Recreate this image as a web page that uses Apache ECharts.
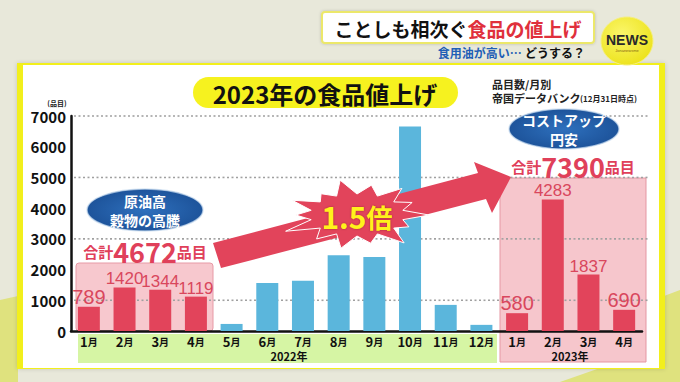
<!DOCTYPE html>
<html><head><meta charset="utf-8">
<script src="https://cdn.jsdelivr.net/npm/echarts/dist/echarts.min.js"></script>
<style>html,body{margin:0;padding:0;background:#e8e8da}#c{width:680px;height:382px}</style>
</head><body><div id="c"></div>
<script>
// ---- data ----
const categories = ['1月','2月','3月','4月','5月','6月','7月','8月','9月','10月','11月','12月','1月','2月','3月','4月'];
const values2022 = [789, 1420, 1344, 1119, 230, 1560, 1640, 2470, 2410, 6660, 850, 200];
const values2023 = [580, 4283, 1837, 690];
const highlight2022Count = 4;          // 2022年1〜4月
const yMin = 0, yMax = 7000, yInterval = 1000;
const gridLineValues = [1000, 3000, 5000, 7000];
const yearLabels = ['2022年', '2023年'];

const RED = '#e2445b', BLUE = '#5bb6dc', LABEL_RED = '#d9475d';
const allValues = values2022.concat(values2023);
const sum2022 = values2022.slice(0, highlight2022Count).reduce((a, b) => a + b, 0);
const sum2023 = values2023.reduce((a, b) => a + b, 0);

const barData = allValues.map((v, i) => {
  const red = i < highlight2022Count || i >= values2022.length;
  const s = String(v);
  return {
    value: v,
    itemStyle: { color: red ? RED : BLUE },
    label: {
      show: red,
      position: 'top',
      distance: 0,
      color: LABEL_RED,
      fontSize: s.length > 3 ? 17 : 20,
      fontFamily: s.length > 3 ? '"Liberation Sans Narrow", "Liberation Sans", sans-serif' : '"Liberation Sans", sans-serif'
    }
  };
});

// star burst shape (decoration)
function starPoints(cx, cy) {
  const f = [1, 0.8, 1.05, 0.85, 1, 0.9, 1.1, 0.85, 1, 0.8, 1.05, 0.9, 1, 0.85];
  const pts = [];
  const n = f.length;
  for (let i = 0; i < n; i++) {
    const a = (i / n) * Math.PI * 2;
    const a2 = ((i + 0.5) / n) * Math.PI * 2;
    pts.push([cx + Math.cos(a) * 72 * f[i], cy + Math.sin(a) * 34 * f[i]]);
    pts.push([cx + Math.cos(a2) * 47, cy + Math.sin(a2) * 21]);
  }
  return pts;
}

const jp = '"Noto Sans CJK JP", "Noto Sans", sans-serif';
const chart = echarts.init(document.getElementById('c'), null, { renderer: 'svg' });
chart.setOption({
  backgroundColor: '#e8e8da',
  animation: false,
  grid: { left: 71, right: 38, top: 116, bottom: 51 },
  xAxis: {
    type: 'category',
    data: categories,
    axisLine: { lineStyle: { color: '#111', width: 2.5 } },
    axisTick: { alignWithLabel: true, interval: 0, length: 4, lineStyle: { color: '#111', width: 2 } },
    axisLabel: {
      interval: 0,
      margin: 4,
      formatter: v => '{n|' + v.replace('月', '') + '}{m|月}',
      rich: {
        n: { fontSize: 13, lineHeight: 13, fontWeight: 'bold', color: '#111', fontFamily: jp },
        m: { fontSize: 10, lineHeight: 13, fontWeight: 'bold', color: '#111', fontFamily: jp }
      }
    }
  },
  yAxis: {
    type: 'value',
    min: yMin, max: yMax, interval: yInterval,
    axisLine: { show: true, lineStyle: { color: '#111', width: 2.5 } },
    axisTick: { show: false },
    splitLine: { show: false },
    axisLabel: { margin: 5, fontSize: 15, fontWeight: 'bold', color: '#111', fontFamily: jp, formatter: v => String(v) }
  },
  series: [{
    // dotted reference lines at selected values, drawn as small dots
    type: 'custom',
    z: 2,
    silent: true,
    data: gridLineValues.map(v => [0, v]),
    renderItem: (params, api) => {
      const y = api.coord([0, api.value(1)])[1];
      const cs = params.coordSys;
      const children = [];
      for (let x = cs.x + 3; x < cs.x + cs.width + 5; x += 4.5) {
        children.push({ type: 'rect', shape: { x: x, y: y - 0.8, width: 2, height: 1.6 }, style: { fill: '#a0a0a0' } });
      }
      return { type: 'group', children: children };
    }
  }, {
    type: 'bar',
    z: 3,
    data: barData,
    barWidth: 22
  }],
  graphic: [
    // background decorations
    { type: 'polygon', z: -20, shape: { points: [[0, 300], [18, 296], [18, 382], [0, 382]] }, style: { fill: '#dfe27e' } },
    { type: 'polygon', z: -20, shape: { points: [[664, 296], [680, 290], [680, 382], [560, 382], [600, 368], [664, 368]] }, style: { fill: '#dfe27e' } },
    // panel
    { type: 'rect', z: -19, shape: { x: 17, y: 63, width: 648, height: 306 }, style: { fill: '#f2ef1c', shadowBlur: 4, shadowColor: 'rgba(0,0,0,0.15)' } },
    { type: 'rect', z: -18, shape: { x: 23, y: 65, width: 636, height: 303 }, style: { fill: '#ffffff' } },
    // header
    { type: 'rect', z: -10, shape: { x: 322, y: 12, width: 272, height: 31, r: 3 }, style: { fill: '#fff', stroke: '#ece86a', lineWidth: 2, shadowBlur: 3, shadowColor: 'rgba(0,0,0,0.2)' } },
    { type: 'text', z: 20, style: { x: 458, y: 28, align: 'center', verticalAlign: 'middle', text: '{k|ことしも相次ぐ}{r|食品の値上げ}',
      rich: { k: { fontSize: 19, fontWeight: 'bold', fill: '#111', fontFamily: jp }, r: { fontSize: 19, fontWeight: 'bold', fill: '#e0303c', fontFamily: jp } } } },
    { type: 'text', z: 20, style: { x: 585, y: 52, align: 'right', verticalAlign: 'middle', text: '{b|食用油が高い…} {k|どうする？}',
      rich: { b: { fontSize: 12, fontWeight: 'bold', fill: '#1f5fb6', fontFamily: jp }, k: { fontSize: 12, fontWeight: 'bold', fill: '#111', fontFamily: jp } } } },
    // NEWS lemon
    { type: 'ellipse', z: 20, shape: { cx: 627, cy: 41, rx: 26, ry: 24 }, style: { fill: new echarts.graphic.RadialGradient(0.4, 0.35, 0.7, [{ offset: 0, color: '#fbf66a' }, { offset: 1, color: '#ece21a' }]), stroke: '#f5ef80', lineWidth: 1 } },
    { type: 'text', z: 21, style: { x: 627, y: 40, align: 'center', verticalAlign: 'middle', text: 'NEWS', fontSize: 14, fontWeight: 'bold', fill: '#2a2a2a', fontFamily: '"Liberation Sans Narrow", sans-serif' } },
    { type: 'text', z: 21, style: { x: 627, y: 50, align: 'center', verticalAlign: 'middle', text: 'Jonanewsme', fontSize: 4, fill: '#8a6a10', fontFamily: 'sans-serif' } },
    // title pill
    { type: 'rect', z: 5, shape: { x: 193, y: 77, width: 265, height: 31, r: 15.5 }, style: { fill: '#f6f21f' } },
    { type: 'text', z: 6, style: { x: 325, y: 93, align: 'center', verticalAlign: 'middle', text: '2023年の食品値上げ', fontSize: 24, fontWeight: 'bold', fill: '#111', fontFamily: jp } },
    // source
    { type: 'text', z: 6, style: { x: 492, y: 84, verticalAlign: 'middle', text: '品目数/月別', fontSize: 11, fontWeight: 'bold', fill: '#222', fontFamily: jp } },
    { type: 'text', z: 6, style: { x: 492, y: 98, verticalAlign: 'middle', text: '{a|帝国データバンク}{b|(12月31日時点)}',
      rich: { a: { fontSize: 11, fontWeight: 'bold', fill: '#222', fontFamily: jp }, b: { fontSize: 8, fontWeight: 'bold', fill: '#222', fontFamily: jp } } } },
    { type: 'text', z: 6, style: { x: 57, y: 103, align: 'center', verticalAlign: 'middle', text: '(品目)', fontSize: 7, fontWeight: 'bold', fill: '#222', fontFamily: jp } },
    // bands below axis
    { type: 'rect', z: -5, shape: { x: 78, y: 334, width: 419, height: 29 }, style: { fill: '#d6f5a4' } },
    { type: 'text', z: 6, style: { x: 289, y: 356, align: 'center', verticalAlign: 'middle', text: yearLabels[0], fontSize: 11, lineHeight: 11, fontWeight: 'bold', fill: '#111', fontFamily: jp } },
    // pink boxes
    { type: 'rect', z: -5, shape: { x: 76, y: 263, width: 137, height: 68, r: 3 }, style: { fill: '#f7c8ce', stroke: '#e79aa6', lineWidth: 1 } },
    { type: 'rect', z: -5, shape: { x: 500, y: 178, width: 146, height: 184 }, style: { fill: '#f6c6cc', stroke: '#e597a3', lineWidth: 1 } },
    { type: 'text', z: 6, style: { x: 570, y: 356, align: 'center', verticalAlign: 'middle', text: yearLabels[1], fontSize: 11, lineHeight: 11, fontWeight: 'bold', fill: '#111', fontFamily: jp } },
    // left annotation
    { type: 'ellipse', z: 8, shape: { cx: 145, cy: 210, rx: 58, ry: 21 }, style: { fill: new echarts.graphic.RadialGradient(0.5, 0.5, 0.6, [{ offset: 0, color: '#2e70bd' }, { offset: 1, color: '#1a4e94' }]), stroke: 'rgba(200,220,240,0.7)', lineWidth: 1.5 } },
    { type: 'text', z: 9, style: { x: 145, y: 201, align: 'center', verticalAlign: 'middle', text: '原油高', fontSize: 14, fontWeight: 'bold', fill: '#fff', fontFamily: jp } },
    { type: 'text', z: 9, style: { x: 145, y: 220, align: 'center', verticalAlign: 'middle', text: '穀物の高騰', fontSize: 14, fontWeight: 'bold', fill: '#fff', fontFamily: jp } },
    { type: 'text', z: 9, style: { x: 145, y: 251, align: 'center', verticalAlign: 'middle', text: '{a|合計}{b|' + sum2022 + '}{a|品目}',
      rich: { a: { fontSize: 15, fontWeight: 'bold', fill: '#e0405a', fontFamily: jp }, b: { fontSize: 27, fontWeight: 'bold', fill: '#e0405a', fontFamily: jp } } } },
    // right annotation
    { type: 'ellipse', z: 8, shape: { cx: 564, cy: 129, rx: 55, ry: 20 }, style: { fill: new echarts.graphic.RadialGradient(0.5, 0.5, 0.6, [{ offset: 0, color: '#2e70bd' }, { offset: 1, color: '#1a4e94' }]), stroke: 'rgba(200,220,240,0.7)', lineWidth: 1.5 } },
    { type: 'text', z: 9, style: { x: 564, y: 120, align: 'center', verticalAlign: 'middle', text: 'コストアップ', fontSize: 14, fontWeight: 'bold', fill: '#fff', fontFamily: jp } },
    { type: 'text', z: 9, style: { x: 564, y: 139, align: 'center', verticalAlign: 'middle', text: '円安', fontSize: 14, fontWeight: 'bold', fill: '#fff', fontFamily: jp } },
    { type: 'text', z: 9, style: { x: 573, y: 166, align: 'center', verticalAlign: 'middle', text: '{a|合計}{b|' + sum2023 + '}{a|品目}',
      rich: { a: { fontSize: 15, fontWeight: 'bold', fill: '#e0405a', fontFamily: jp }, b: { fontSize: 27, fontWeight: 'bold', fill: '#e0405a', fontFamily: jp } } } },
    // arrow + burst
    { type: 'polygon', z: 10, shape: { points: [[213, 243], [478, 173], [474, 162], [511, 177], [492, 213], [486, 199], [221, 268]] }, style: { fill: RED } },
    { type: 'polygon', z: 11, shape: { points: starPoints(357, 215) }, style: { fill: RED, stroke: '#fff', lineWidth: 1 } },
    { type: 'text', z: 12, style: { x: 357, y: 216, align: 'center', verticalAlign: 'middle', text: '{a|1.5}{b|倍}',
      rich: { a: { fontSize: 30, fontWeight: 'bold', fill: '#fff21a', fontFamily: jp, textShadowColor: 'rgba(80,0,0,0.4)', textShadowBlur: 2 },
              b: { fontSize: 26, fontWeight: 'bold', fill: '#fff21a', fontFamily: jp, textShadowColor: 'rgba(80,0,0,0.4)', textShadowBlur: 2 } } } }
  ]
});
</script>
</body></html>
